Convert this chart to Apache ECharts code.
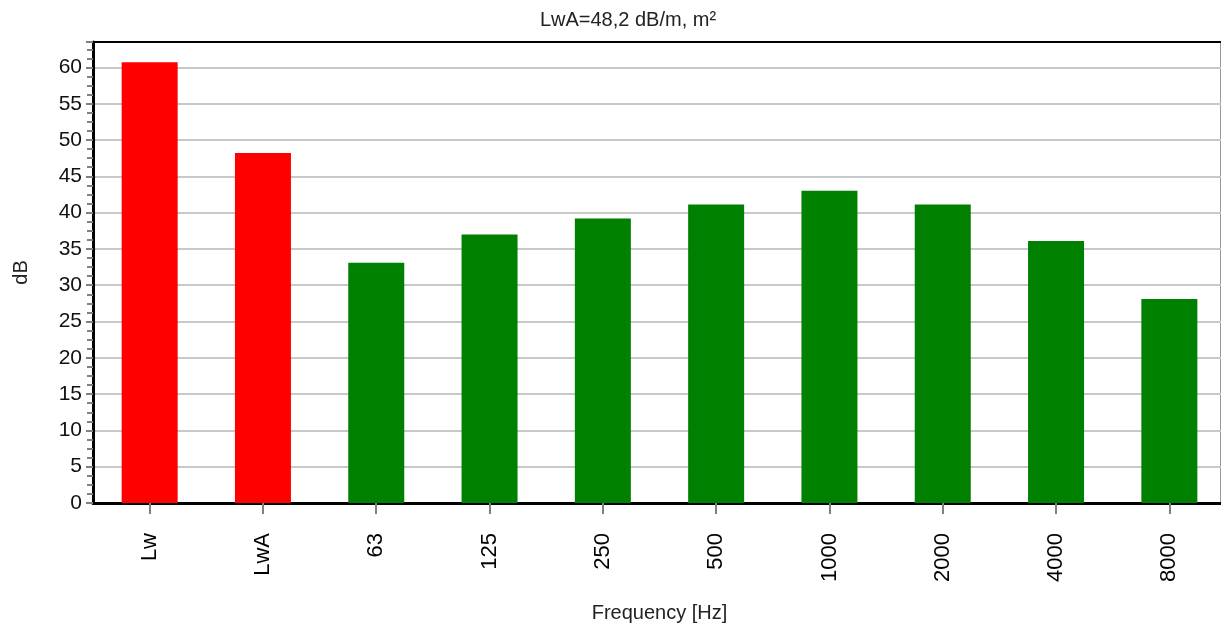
<!DOCTYPE html>
<html>
<head>
<meta charset="utf-8">
<script src="https://cdn.jsdelivr.net/npm/echarts@6/dist/echarts.min.js"></script>
<style>html,body{margin:0;padding:0;background:#fff}#c{width:1221px;height:631px}</style>
</head>
<body>
<div id="c"></div>
<script>
const categories = ['Lw', 'LwA', '63', '125', '250', '500', '1000', '2000', '4000', '8000'];
const values = [60.7, 48.2, 33.1, 37.0, 39.2, 41.1, 43.0, 41.1, 36.1, 28.1];
const barColors = ['#ff0000', '#ff0000', '#008000', '#008000', '#008000', '#008000', '#008000', '#008000', '#008000', '#008000'];
const titleText = 'LwA=48,2 dB/m, m²';
const xName = 'Frequency [Hz]';
const yName = 'dB';

const chart = echarts.init(document.getElementById('c'), null, {renderer: 'canvas'});
const FONT = '"Liberation Sans", Arial, sans-serif';
chart.setOption({
  animation: false,
  backgroundColor: '#ffffff',
  title: {
    text: titleText, left: 623, top: 5, textAlign: 'center',
    textStyle: {fontFamily: FONT, fontSize: 20, fontWeight: 'normal', color: '#222'}
  },
  graphic: [{
    type: 'line', silent: true,
    shape: {x1: 1220.5, y1: 42, x2: 1220.5, y2: 503},
    style: {stroke: '#999', lineWidth: 1}
  }],
  grid: {left: 93, width: 1133, top: 42, bottom: 128, show: false, containLabel: false, outerBoundsMode: 'none'},
  xAxis: [{
    type: 'category', data: categories, position: 'bottom',
    name: xName, nameLocation: 'middle', nameGap: 100,
    nameTextStyle: {fontFamily: FONT, fontSize: 20, color: '#222'},
    axisLine: {show: true, lineStyle: {color: '#000', width: 3}},
    axisTick: {show: true, alignWithLabel: true, length: 11, lineStyle: {color: '#808080', width: 2}},
    axisLabel: {rotate: 90, margin: 30, fontFamily: FONT, fontSize: 22, color: '#000'},
    splitLine: {show: false}
  }, {
    type: 'category', data: categories, position: 'top',
    axisLine: {show: true, lineStyle: {color: '#000', width: 2}},
    axisTick: {show: false}, axisLabel: {show: false}
  }],
  yAxis: {
    type: 'value', min: 0, max: 63.5, interval: 5,
    name: yName, nameLocation: 'middle', nameGap: 62, nameRotate: 90,
    nameTextStyle: {fontFamily: FONT, fontSize: 20, color: '#222'},
    axisLine: {show: true, lineStyle: {color: '#000', width: 3}},
    axisTick: {show: true, length: 7, lineStyle: {color: '#808080', width: 2}},
    minorTick: {show: true, splitNumber: 4, length: 6, lineStyle: {color: '#808080', width: 2}},
    axisLabel: {
      margin: 11, fontFamily: FONT, fontSize: 21, color: '#111',
      formatter: function (v) { return (Math.abs(v % 5) < 1e-6) ? String(v) : ''; }
    },
    splitLine: {show: true, lineStyle: {color: '#c8c8c8', width: 2}}
  },
  series: [{
    type: 'bar', barWidth: 56,
    data: values.map((v, i) => ({value: v, itemStyle: {color: barColors[i]}}))
  }]
});
</script>
</body>
</html>
